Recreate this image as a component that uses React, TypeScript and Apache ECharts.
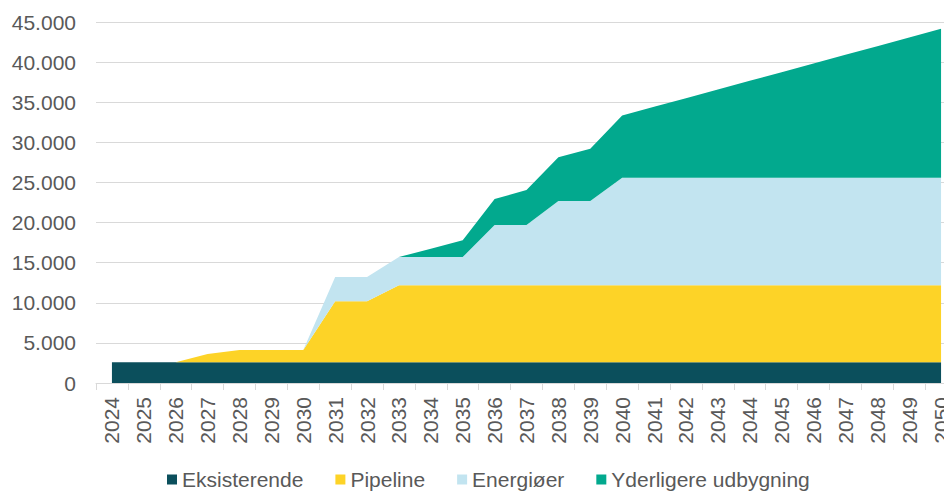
import React, { useEffect, useRef } from "react";
import * as echarts from "echarts";

const years = [
  "2024", "2025", "2026", "2027", "2028", "2029", "2030", "2031", "2032", "2033",
  "2034", "2035", "2036", "2037", "2038", "2039", "2040", "2041", "2042", "2043",
  "2044", "2045", "2046", "2047", "2048", "2049", "2050",
];

const eksisterende = [
  2600, 2600, 2600, 2600, 2600, 2600, 2600, 2600, 2600, 2600,
  2600, 2600, 2600, 2600, 2600, 2600, 2600, 2600, 2600, 2600,
  2600, 2600, 2600, 2600, 2600, 2600, 2600,
];

const pipeline = [
  0, 0, 0, 1000, 1500, 1500, 1500, 7600, 7600, 9600,
  9600, 9600, 9600, 9600, 9600, 9600, 9600, 9600, 9600, 9600,
  9600, 9600, 9600, 9600, 9600, 9600, 9600,
];

const energioer = [
  0, 0, 0, 0, 0, 0, 0, 3000, 3000, 3500,
  3500, 3500, 7500, 7500, 10500, 10500, 13400, 13400, 13400, 13400,
  13400, 13400, 13400, 13400, 13400, 13400, 13400,
];

const yderligere = [
  0, 0, 0, 0, 0, 0, 0, 0, 0, 0,
  1050, 2100, 3250, 4350, 5450, 6500, 7750, 8830, 9910, 10990,
  12070, 13150, 14230, 15310, 16390, 17470, 18550,
];

const seriesNames = ["Eksisterende", "Pipeline", "Energiøer", "Yderligere udbygning"];
const seriesColors = ["#0b4f5c", "#fdd327", "#c2e4f0", "#02a98e"];
const seriesData = [eksisterende, pipeline, energioer, yderligere];

const yTicks = { min: 0, max: 45000, interval: 5000 };

function formatDanish(v: number): string {
  const s = String(Math.round(v));
  return s.replace(/\B(?=(\d{3})+(?!\d))/g, ".");
}

export default function App() {
  const ref = useRef<HTMLDivElement>(null);

  useEffect(() => {
    if (!ref.current) return;
    const chart = echarts.init(ref.current, undefined, { renderer: "svg" });
    const font = "Liberation Sans, Arial, sans-serif";
    chart.setOption({
      animation: false,
      textStyle: { fontFamily: font },
      grid: { left: 96, right: 0, top: 22, bottom: 109, containLabel: false },
      legend: {
        top: 469,
        left: 167,
        padding: 0,
        icon: "rect",
        itemWidth: 10,
        itemHeight: 10,
        itemGap: 32,
        textStyle: { fontSize: 21, color: "#595959", fontFamily: font },
        data: seriesNames,
      },
      xAxis: {
        type: "category",
        data: years,
        boundaryGap: true,
        axisLine: { show: true, lineStyle: { color: "#d9d9d9", width: 1 } },
        axisTick: { show: true, length: 7, lineStyle: { color: "#d9d9d9" } },
        axisLabel: {
          rotate: 90,
          interval: 0,
          fontSize: 21,
          color: "#595959",
          margin: 14,
          fontFamily: font,
        },
      },
      yAxis: {
        type: "value",
        min: yTicks.min,
        max: yTicks.max,
        interval: yTicks.interval,
        axisLine: { show: false },
        axisTick: { show: false },
        splitLine: { lineStyle: { color: "#d9d9d9", width: 1 } },
        axisLabel: {
          fontSize: 21,
          color: "#595959",
          margin: 20,
          fontFamily: font,
          formatter: (v: number) => formatDanish(v),
        },
      },
      series: seriesNames.map((name, i) => ({
        name,
        type: "line",
        stack: "total",
        data: seriesData[i],
        symbol: "none",
        lineStyle: { width: 0, color: seriesColors[i] },
        itemStyle: { color: seriesColors[i] },
        areaStyle: { color: seriesColors[i], opacity: 1 },
      })),
    });
    return () => chart.dispose();
  }, []);

  return (
    <div
      style={{
        position: "fixed",
        left: 0,
        top: 0,
        width: 944,
        height: 492,
        overflow: "hidden",
        background: "#fff",
      }}
    >
      <div ref={ref} style={{ width: 957, height: 492 }} />
    </div>
  );
}
